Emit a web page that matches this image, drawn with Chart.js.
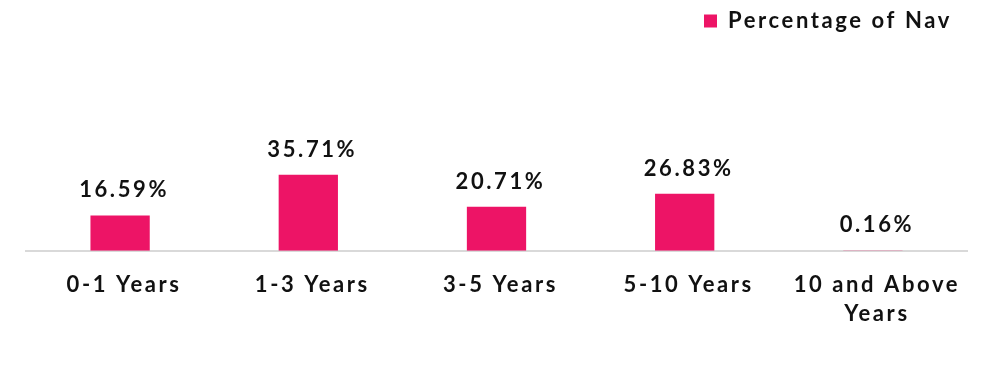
<!DOCTYPE html>
<html>
<head>
<meta charset="utf-8">
<script src="https://cdn.jsdelivr.net/npm/chart.js@4.4.1/dist/chart.umd.min.js"></script>
<style>
  html, body { margin: 0; padding: 0; background: #fff; }
  #wrap { width: 986px; height: 366px; position: relative; }
</style>
</head>
<body>
<div id="wrap"><canvas id="maturityChart"></canvas></div>
<script>
// Maturity profile data
const categories = ['0-1 Years', '1-3 Years', '3-5 Years', '5-10 Years', ['10 and Above', 'Years']];
const navPercent = [16.59, 35.71, 20.71, 26.83, 0.16];
const seriesName = 'Percentage of Nav';

const barColor = '#ED1466';
const textColor = '#111111';
const fontFamily = 'Lato, "Open Sans", sans-serif';
const spacing = '2.6px';

// the reference text is set with wide tracking, keep it on the context
const tracking = {
    id: 'tracking',
    beforeUpdate(chart) { chart.ctx.letterSpacing = spacing; },
    beforeLayout(chart) { chart.ctx.letterSpacing = spacing; },
    afterLayout(chart) {
        // legend sits a little in from the right edge
        if (chart.legend) chart.legend.right -= 5;
    },
    beforeDraw(chart) { chart.ctx.letterSpacing = spacing; }
};

// draws the value labels above each bar
const valueLabels = {
    id: 'valueLabels',
    afterDatasetsDraw(chart) {
        const ctx = chart.ctx;
        const meta = chart.getDatasetMeta(0);
        ctx.save();
        ctx.letterSpacing = spacing;
        ctx.font = 'bold 22px ' + fontFamily;
        ctx.fillStyle = textColor;
        ctx.textAlign = 'center';
        ctx.textBaseline = 'alphabetic';
        meta.data.forEach((bar, i) => {
            ctx.fillText(navPercent[i].toFixed(2) + '%', bar.x + 4, bar.y - 18);
        });
        ctx.restore();
    }
};

new Chart(document.getElementById('maturityChart'), {
    type: 'bar',
    data: {
        labels: categories,
        datasets: [{
            label: seriesName,
            data: navPercent,
            backgroundColor: barColor,
            borderWidth: 0,
            barPercentage: 0.63,
            categoryPercentage: 0.5
        }]
    },
    options: {
        responsive: true,
        maintainAspectRatio: false,
        animation: false,
        layout: {
            padding: { left: 26, right: 19, top: 0, bottom: 26 }
        },
        plugins: {
            legend: {
                display: true,
                position: 'top',
                align: 'end',
                labels: {
                    boxWidth: 13,
                    boxHeight: 13,
                    padding: 10,
                    color: textColor,
                    font: { family: fontFamily, size: 22, weight: 'bold' }
                }
            },
            tooltip: { enabled: false }
        },
        scales: {
            y: {
                display: false,
                min: 0,
                max: 98
            },
            x: {
                grid: { display: false },
                border: { display: true, color: '#D9D9D9', width: 2 },
                ticks: {
                    color: textColor,
                    padding: 12,
                    labelOffset: 4,
                    maxRotation: 0,
                    autoSkip: false,
                    font: { family: fontFamily, size: 22, weight: 'bold', lineHeight: 1.3 }
                }
            }
        }
    },
    plugins: [tracking, valueLabels]
});
</script>
</body>
</html>
